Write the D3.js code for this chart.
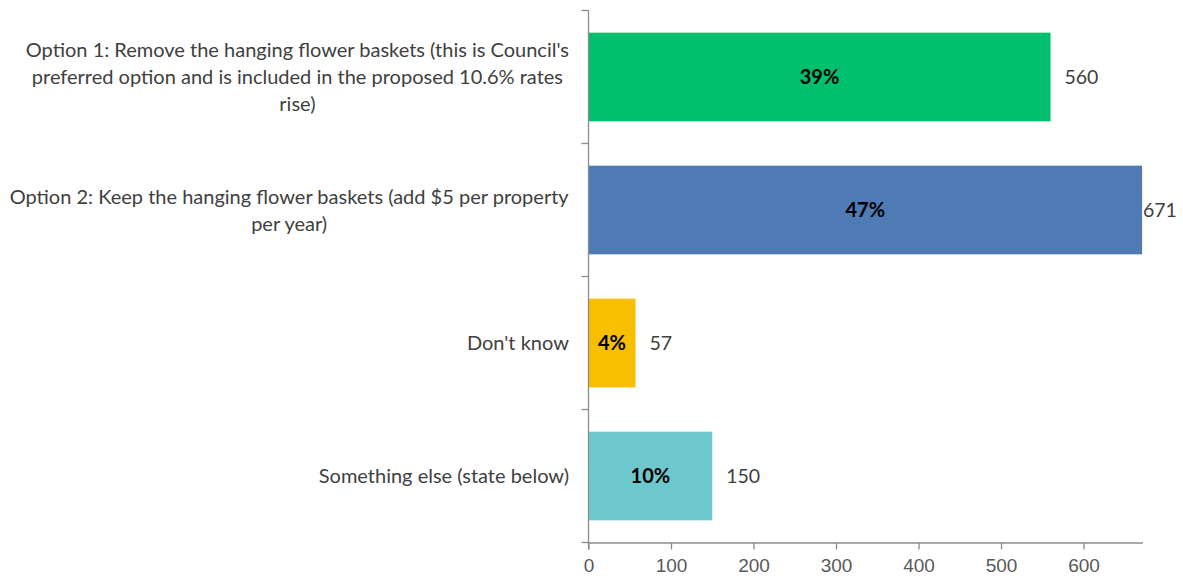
<!DOCTYPE html>
<html>
<head>
<meta charset="utf-8">
<script src="https://cdn.jsdelivr.net/npm/d3@7"></script>
<style>
  body { margin: 0; background: #fff; }
  svg { display: block; font-family: Lato, "Open Sans", sans-serif; }
</style>
</head>
<body>
<svg id="chart" width="1183" height="579"></svg>
<script>
// data
const categories = [
  ["Option 1: Remove the hanging flower baskets (this is Council's", "preferred option and is included in the proposed 10.6% rates", "rise)"],
  ["Option 2: Keep the hanging flower baskets (add $5 per property", "per year)"],
  ["Don't know"],
  ["Something else (state below)"]
];
const counts = [560, 671, 57, 150];
const percents = ["39%", "47%", "4%", "10%"];
const barColors = ["#00bf6f", "#4f7bb4", "#f8bf00", "#6cc8cc"];
const xTicks = [0, 100, 200, 300, 400, 500, 600];

const W = 1183, H = 579;
const plotLeft = 588.5, plotRight = 1142.5, plotTop = 10.5, plotBottom = 542.5;

const svg = d3.select('#chart');

const x = d3.scaleLinear().domain([0, 671.5]).range([plotLeft, plotRight]);
const y = d3.scaleBand().domain(d3.range(categories.length)).range([plotTop, plotBottom])
  .paddingInner(1 / 3).paddingOuter(1 / 6);

// bars
svg.selectAll('.bar')
  .data(counts)
  .enter()
  .append('rect')
  .attr('class', 'bar')
  .attr('x', x(0))
  .attr('y', (d, i) => y(i))
  .attr('width', d => x(d) - x(0))
  .attr('height', y.bandwidth())
  .style('fill', (d, i) => barColors[i]);

// x axis
const xAxis = svg.append('g')
  .attr('transform', `translate(0,${plotBottom})`)
  .call(d3.axisBottom(x).tickValues(xTicks).tickSize(7).tickPadding(9).tickSizeOuter(0));
xAxis.select('.domain').attr('stroke', '#8c8c8c').attr('stroke-width', 1.3);
xAxis.selectAll('.tick line').attr('stroke', '#8c8c8c').attr('stroke-width', 1.3);
xAxis.selectAll('.tick text')
  .style('font-size', '19px')
  .style('fill', '#595959');

// y axis line + ticks at band boundaries
const bandStep = y.step();
const yEdges = d3.range(categories.length + 1).map(i => plotTop + i * bandStep);
svg.append('line')
  .attr('x1', plotLeft).attr('x2', plotLeft)
  .attr('y1', plotTop).attr('y2', plotBottom + 7)
  .attr('stroke', '#8c8c8c').attr('stroke-width', 1.3);
svg.selectAll('.ytick')
  .data(yEdges)
  .enter()
  .append('line')
  .attr('x1', plotLeft - 7).attr('x2', plotLeft)
  .attr('y1', d => d).attr('y2', d => d)
  .attr('stroke', '#8c8c8c').attr('stroke-width', 1.3);

// category labels
const lineH = 27;
categories.forEach((lines, i) => {
  const cy = y(i) + y.bandwidth() / 2;
  const t = svg.append('text')
    .attr('text-anchor', 'middle')
    .style('font-size', '20px')
    .style('fill', '#404040');
  lines.forEach((ln, k) => {
    t.append('tspan')
      .attr('x', 0)
      .attr('y', cy + (k - (lines.length - 1) / 2) * lineH)
      .attr('dy', '0.35em')
      .text(ln);
  });
  // centre each block on a fixed right edge
  const maxW = t.node().getBBox().width;
  t.selectAll('tspan').attr('x', 569 - maxW / 2);
});

// percentage labels inside bars
svg.selectAll('.pct')
  .data(percents)
  .enter()
  .append('text')
  .attr('x', (d, i) => (x(0) + x(counts[i])) / 2)
  .attr('y', (d, i) => y(i) + y.bandwidth() / 2)
  .attr('dy', '0.35em')
  .attr('text-anchor', 'middle')
  .style('font-size', '20px')
  .style('font-weight', 'bold')
  .style('fill', '#000')
  .text(d => d);

// count labels
svg.selectAll('.cnt')
  .data(counts)
  .enter()
  .append('text')
  .attr('x', d => Math.min(x(d) + 14, W - 40))
  .attr('y', (d, i) => y(i) + y.bandwidth() / 2)
  .attr('dy', '0.35em')
  .style('font-size', '19.5px')
  .style('fill', '#404040')
  .text(d => d);
</script>
</body>
</html>
